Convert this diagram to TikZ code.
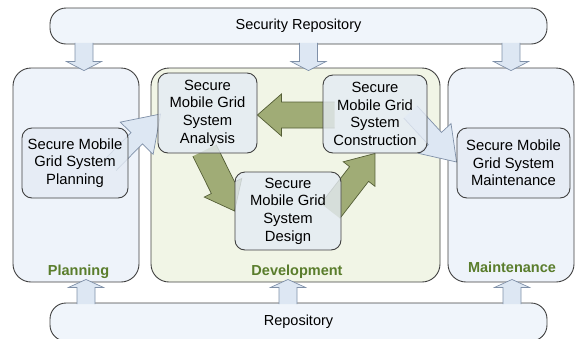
\documentclass[tikz,border=0pt]{standalone}
\usepackage{fontspec}
\setmainfont{Liberation Sans}
\usetikzlibrary{calc,backgrounds}
\definecolor{box_line}{HTML}{404040}
\definecolor{box_blue}{HTML}{EEF3FA}
\definecolor{box_green}{HTML}{F1F5E6}
\definecolor{step_fill}{HTML}{E4EBF4}
\definecolor{bar_fill}{HTML}{F0F5FB}
\definecolor{arrow_blue}{HTML}{DDE7F3}
\definecolor{arrow_blue_line}{HTML}{7F90A8}
\definecolor{arrow_green}{HTML}{A0AC76}
\definecolor{arrow_green_line}{HTML}{545E36}
\definecolor{label_green}{HTML}{5A7D2C}

% style, tail, tip, half shaft, half head, head length
\newcommand{\fatarrow}[6]{%
  \coordinate (fathead) at ($(#3)!#6!(#2)$);
  \path[#1, draw=none] ($(#2)!#4!90:(#3)$) -- ($(fathead)!#4!90:(#3)$) -- ($(fathead)!#5!90:(#3)$) -- (#3)
    -- ($(fathead)!#5!-90:(#3)$) -- ($(fathead)!#4!-90:(#3)$) -- ($(#2)!#4!-90:(#3)$) -- cycle;
  \path[#1, fill=none] ($(#2)!#4!90:(#3)$) -- ($(fathead)!#4!90:(#3)$) -- ($(fathead)!#5!90:(#3)$) -- (#3)
    -- ($(fathead)!#5!-90:(#3)$) -- ($(fathead)!#4!-90:(#3)$) -- ($(#2)!#4!-90:(#3)$);}

\begin{document}
\begin{tikzpicture}[x={(1pt,0)}, y={(0,-1pt)}]
    \tikzstyle{group} = [draw=box_line, line width=0.9pt, rounded corners=18pt, inner sep=0pt];
    \tikzstyle{bar} = [draw=box_line, fill=bar_fill, line width=0.9pt, rounded corners=16pt, font=\fontsize{14.5}{17}\selectfont];
    \tikzstyle{stepbox} = [draw=box_line, fill=step_fill, fill opacity=.8, text opacity=1, line width=0.9pt, rounded corners=10pt, align=center, inner sep=0pt, font=\fontsize{14.8}{17.6}\selectfont];
    \tikzstyle{grouplabel} = [text=label_green, font=\bfseries\fontsize{14.5}{17}\selectfont];
    \tikzstyle{fatblue} = [fill=arrow_blue, draw=arrow_blue_line, line width=0.7pt, line join=miter];
    \tikzstyle{fatgreen} = [fill=arrow_green, draw=arrow_green_line, line width=0.7pt, line join=miter];
    \useasboundingbox (0,0) rectangle (576,338);

    % phases
    \begin{pgfonlayer}{background}
    \foreach \n/\x/\w/\c in {plgbox/76/126/box_blue, devbox/295.5/289/box_green, mntbox/511/126/box_blue}
    {\node[group, fill=\c, minimum width=\w pt, minimum height=214pt] (\n) at (\x,175) {};}
    \end{pgfonlayer}
    \foreach \n/\l/\x/\y in {plglabel/Planning/78.5/272, devlabel/Development/297/272, mntlabel/Maintenance/512/267}
    {\node[grouplabel] (\n) at (\x,\y) {\l};}

    % repositories
    \node[bar, minimum width=497pt, minimum height=36pt] (secrepo) at (298.5,26) {Security Repository};
    \node[bar, minimum width=497pt, minimum height=38pt] (repo) at (298.5,322) {Repository};
    \foreach \x/\b in {84/plgbox, 308.5/devbox, 511/mntbox}
    {
    \coordinate (bartail) at ($(secrepo.south -| \x,0)+(0,-1.5)$);
    \coordinate (bartip) at ($(\b.north -| \x,0)+(0,3)$);
    \fatarrow{fatblue}{bartail}{bartip}{9pt}{17.5pt}{9pt}
    }
    \foreach \x/\b in {86/plgbox, 288/devbox, 512/mntbox}
    {
    \coordinate (bartail) at ($(repo.north -| \x,0)+(0,1.5)$);
    \coordinate (bartip) at ($(\b.south -| \x,0)+(0,-3)$);
    \fatarrow{fatblue}{bartail}{bartip}{9pt}{17.5pt}{8pt}
    }

    % steps
    \node[stepbox, minimum width=106pt, minimum height=70pt] (plan) at (75,163) {Secure Mobile\\Grid System\\Planning};
    \node[stepbox, minimum width=99pt, minimum height=80pt] (anal) at (207.5,113) {Secure\\Mobile Grid\\System\\Analysis};
    \node[stepbox, minimum width=104pt, minimum height=78pt] (cons) at (375,114) {Secure\\Mobile Grid\\System\\Construction};
    \node[stepbox, minimum width=106pt, minimum height=78pt] (desg) at (288,211) {Secure\\Mobile Grid\\System\\Design};
    \node[stepbox, minimum width=113pt, minimum height=70pt] (mnt) at (513.5,163) {Secure Mobile\\Grid System\\Maintenance};

    \begin{pgfonlayer}{background}
    \coordinate (plantail) at ($(plan.east)+(-18,2)$);
    \coordinate (analin) at ($(anal.west)+(3,1)$);
    \coordinate (constail) at ($(cons.west)+(12,1)$);
    \coordinate (analback) at ($(anal.east)+(0,2)$);
    \coordinate (analtail) at ($(anal.south)+(-3,-3)$);
    \coordinate (desgtail) at ($(desg.east)+(-11,0)$);
    \coordinate (consout) at ($(cons.east)+(-17,-2)$);
    \coordinate (mntin) at ($(mnt.west)+(0,-1)$);
    \fatarrow{fatblue}{plantail}{analin}{8pt}{23pt}{34pt}
    \fatarrow{fatgreen}{constail}{analback}{13pt}{21pt}{24pt}
    \fatarrow{fatgreen}{analtail}{desg.west}{13pt}{21pt}{26pt}
    \fatarrow{fatgreen}{desgtail}{cons.south}{12pt}{20pt}{26pt}
    \fatarrow{fatblue}{consout}{mntin}{9pt}{22pt}{32pt}
    \end{pgfonlayer}
\end{tikzpicture}
\end{document}
